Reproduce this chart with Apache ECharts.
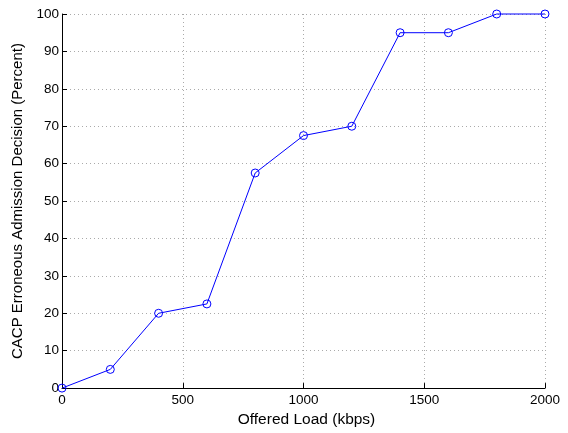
<!DOCTYPE html>
<html><head><meta charset="utf-8">
<script src="https://cdn.jsdelivr.net/npm/echarts@6/dist/echarts.min.js"></script>
<style>html,body{margin:0;padding:0;background:#fff}#c{width:568px;height:433px}</style>
</head><body><div id="c"></div>
<script>
const offeredLoad = [0, 200, 400, 600, 800, 1000, 1200, 1400, 1600, 1800, 2000];
const erroneousPct = [0, 5, 20, 22.5, 57.5, 67.5, 70, 95, 95, 100, 100];
const xTitle = 'Offered Load (kbps)';
const yTitle = 'CACP Erroneous Admission Decision (Percent)';

const chart = echarts.init(document.getElementById('c'), null, {renderer: 'canvas'});
const font = 'Liberation Sans, Arial, Helvetica, sans-serif';
chart.setOption({
  animation: false,
  backgroundColor: '#fff',
  grid: {left: 62, right: 23, top: 14, bottom: 39, containLabel: false},
  xAxis: {
    type: 'value', min: 0, max: 2000, interval: 500,
    name: xTitle, nameLocation: 'middle', nameGap: 23,
    nameTextStyle: {color: '#000', fontSize: 15.5, fontFamily: font, padding: [0, 0, 0, 6]},
    axisLine: {show: true, lineStyle: {color: '#000', width: 1}},
    axisTick: {show: true, inside: true, length: 5, lineStyle: {color: '#000'}},
    axisLabel: {color: '#000', fontSize: 13.5, fontFamily: font, margin: 5, formatter: v => String(v)},
    splitLine: {show: true, lineStyle: {color: '#aaa', type: [1, 3], width: 1}}
  },
  yAxis: {
    type: 'value', min: 0, max: 100, interval: 10,
    name: yTitle, nameLocation: 'middle', nameGap: 33, nameRotate: 90,
    nameTextStyle: {color: '#000', fontSize: 15, fontFamily: font},
    axisLine: {show: true, lineStyle: {color: '#000', width: 1}},
    axisTick: {show: true, inside: true, length: 5, lineStyle: {color: '#000'}},
    axisLabel: {color: '#000', fontSize: 13.5, fontFamily: font, margin: 3},
    splitLine: {show: true, lineStyle: {color: '#aaa', type: [1, 3], width: 1}}
  },
  series: [{
    type: 'line',
    data: offeredLoad.map((x, i) => [x, erroneousPct[i]]),
    symbol: 'circle', symbolSize: 8, showAllSymbol: true,
    lineStyle: {color: '#0000ff', width: 1},
    itemStyle: {color: 'rgba(0,0,0,0)', borderColor: '#0000ff', borderWidth: 1},
    clip: false
  }]
});
</script></body></html>
